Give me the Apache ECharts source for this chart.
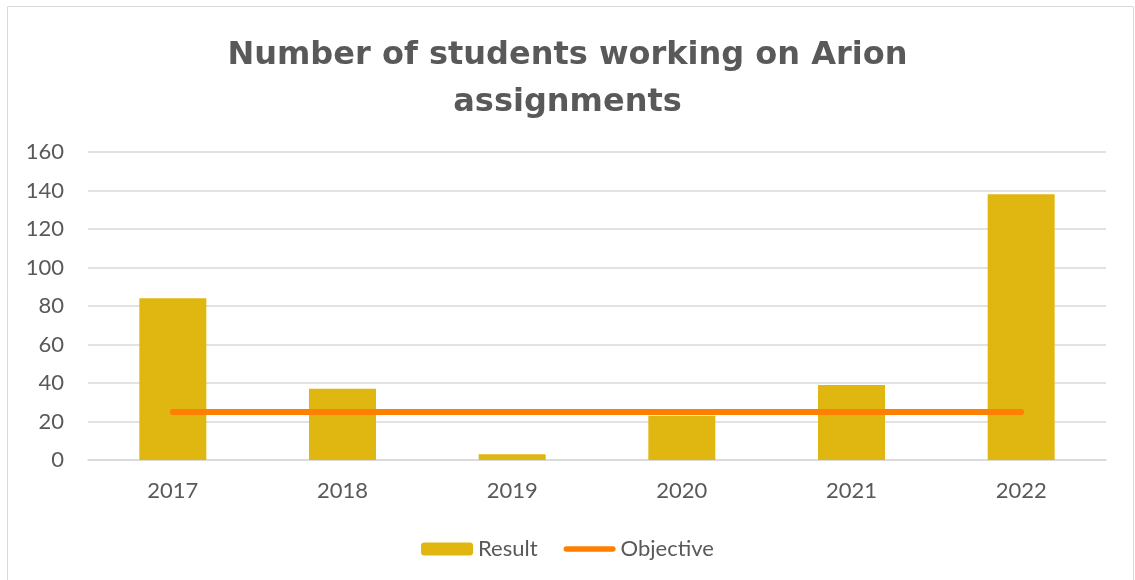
<!DOCTYPE html>
<html>
<head>
<meta charset="utf-8">
<script src="https://cdn.jsdelivr.net/npm/echarts@6/dist/echarts.min.js"></script>
<style>
  html, body { margin: 0; padding: 0; background: #fff; }
  #chart { width: 1135px; height: 580px; }
</style>
</head>
<body>
<div id="chart"></div>
<script>
// chart data
const years = ['2017', '2018', '2019', '2020', '2021', '2022']
const result = [84, 37, 3, 23, 39, 138]
const objective = [25, 25, 25, 25, 25, 25]

const textColor = '#595959'
const font = 'Lato'

const chart = echarts.init(document.getElementById('chart'))

chart.setOption({
  animation: false,
  textStyle: { fontFamily: font },
  graphic: [{
    type: 'rect',
    shape: { x: 7.5, y: 6.5, width: 1126, height: 600 },
    style: { fill: 'none', stroke: '#d9d9d9', lineWidth: 1 },
    silent: true
  }],
  title: {
    text: 'Number of students working on Arion\nassignments',
    left: 'center',
    top: 27,
    textStyle: { fontSize: 32, fontWeight: 'bold', color: textColor, lineHeight: 47, fontFamily: 'DejaVu Sans' }
  },
  legend: {
    left: 'center',
    top: 533,
    itemWidth: 52,
    itemHeight: 13,
    itemGap: 26,
    textStyle: { fontSize: 22, color: textColor, fontFamily: font },
    data: [
      { name: 'Result' },
      { name: 'Objective', icon: 'path://M3,0 H53 A3,3 0 0 1 53,6 H3 A3,3 0 0 1 3,0 Z' }
    ]
  },
  grid: { left: 88, right: 29, top: 152, bottom: 120, containLabel: false },
  xAxis: {
    type: 'category',
    data: years,
    axisLine: { lineStyle: { color: '#d9d9d9', width: 1.5 } },
    axisTick: { show: false },
    axisLabel: { fontSize: 22, color: textColor, margin: 20, fontFamily: font }
  },
  yAxis: {
    type: 'value',
    min: 0,
    max: 160,
    interval: 20,
    axisLine: { show: false },
    axisTick: { show: false },
    splitLine: { lineStyle: { color: '#d9d9d9', width: 1.5 } },
    axisLabel: { fontSize: 22, color: textColor, margin: 24, fontFamily: font }
  },
  series: [
    {
      name: 'Result',
      type: 'bar',
      data: result,
      barWidth: 67,
      itemStyle: { color: '#E0B710' }
    },
    {
      name: 'Objective',
      type: 'line',
      data: objective,
      symbol: 'none',
      lineStyle: { color: '#FF7F00', width: 6, cap: 'round' },
      itemStyle: { color: '#FF7F00' }
    }
  ]
})
</script>
</body>
</html>
